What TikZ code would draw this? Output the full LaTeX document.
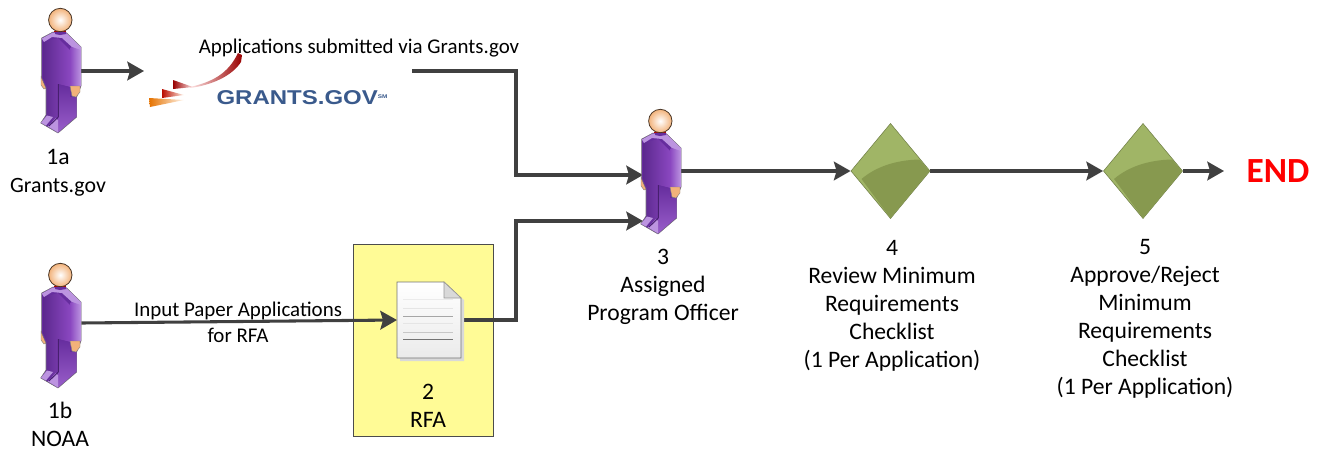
\documentclass[tikz,border=0pt]{standalone}
\usepackage{fontspec}
\setmainfont{Carlito}
\newfontfamily\logofont[FakeStretch=1.2]{Liberation Sans}
\usetikzlibrary{arrows.meta,shapes.geometric}
\definecolor{conn}{HTML}{404040}
\definecolor{purpD}{HTML}{662D9E}
\definecolor{purpM}{HTML}{8A47C0}
\definecolor{purpL}{HTML}{BC94E0}
\definecolor{skin}{HTML}{F2B27A}
\definecolor{dia}{HTML}{A0B566}
\definecolor{diaD}{HTML}{87994F}
\definecolor{rfafill}{HTML}{FFFB96}
\definecolor{logoblue}{HTML}{3A5A8C}
\tikzset{
  x=0.75pt,y=-0.75pt,
  lbl/.style={font=\fontsize{17.7}{21}\selectfont,align=center,inner sep=0pt,text=black},
  edgelbl/.style={font=\fontsize{15.7}{19.5}\selectfont,align=center,inner sep=0pt,text=black},
  conn/.style={draw=conn,line width=2.3pt,-{Stealth[length=12.5pt,width=14pt,inset=2pt]}},
  personbox/.style={inner sep=0pt,minimum width=30pt,minimum height=30pt},
  decision/.style={diamond,aspect=0.83,inner sep=0pt,minimum width=59.5pt,minimum height=71.5pt},
  person/.pic={
    \begin{scope}[shift={(-61,-71)},line join=round]
      \fill[skin,draw=black!50,line width=0.3pt] (41,76) -- (47,76) -- (47,88) -- (44,89) -- (41,85) -- cycle;
      % silhouette
      \draw[black!55,line width=0.4pt,fill=purpD]
        (41.7,38) -- (53,32) -- (66.7,33) -- (81,47) -- (81,86) -- (76.7,97) -- (76.7,117)
        -- (58,133) -- (40.7,123) -- (46,115) -- (46,88) -- (41.7,78) -- cycle;
      % front
      \shade[left color=purpD!90!black,right color=purpM] (43,42) -- (58,38) -- (70,50) -- (70,87) -- (58,84) -- (58,118) -- (47,122) -- (47,86) -- (43,78) -- cycle;
      % right leg
      \shade[top color=purpD,bottom color=purpM!70!purpL] (58,84) -- (70,87) -- (70,97) -- (76.5,97) -- (76.5,116.5) -- (58,132.5) -- cycle;
      % shoulder
      \fill[purpL] (41.9,38.5) -- (53,32.5) -- (66.7,33.3) -- (80.8,47) -- (80.8,52) -- (72,47) -- (62,38) -- (52,37) -- (44,42) -- cycle;
      % arm
      \shade[left color=purpM,right color=purpL] (70,48) -- (72,47) -- (80.8,50) -- (80.8,86) -- (70,87) -- cycle;
      % feet
      \fill[purpL] (41,122.8) -- (47,115.5) -- (53,117) -- (46,125.5) -- cycle;
      \fill[purpL] (48,126.5) -- (56,118) -- (58,120) -- (58,132.5) -- cycle;
      \draw[purpD!70!black,line width=0.7pt] (58.3,84) -- (58.3,117) -- (49,126);
      \fill[skin,draw=black!50,line width=0.3pt] (70,86) -- (80,86) -- (80,92) -- (76,97) -- (72,96) -- cycle;
      \fill[purpD] (55,32) -- (66,32) -- (66,34) -- (60,35) -- (55,34) -- cycle;
      \draw[red!70!black,line width=0.4pt] (54,31.5) -- (66,31.5);
      \shade[inner color=white,outer color=skin,draw=black!70!skin,line width=0.6pt] (60.3,20) circle (11.7);
    \end{scope}
  }
}
\begin{document}
\begin{tikzpicture}
\useasboundingbox (0,0) rectangle (1319,450);

% RFA box
\node[draw=black!70,fill=rfafill,line width=0.8pt,minimum width=105.5pt,minimum height=144.5pt,inner sep=0pt] (rfa) at (423.5,340.5) {};

% anchors
\node[personbox] (p1a) at (61,71) {};
\node[personbox] (p1b) at (61,323) {};
\node[personbox] (p3) at (661,171) {};
\node[inner sep=0pt,minimum width=192pt,minimum height=52pt] (logo) at (284,71) {};
\coordinate (in1) at (643,175);
\coordinate (in2) at (643,221);
\coordinate (docW) at (397,320);
\coordinate (docE) at (461,320);
\coordinate (endpt) at (1224,171);
\node[decision] (d4) at (890.5,171) {};
\node[decision] (d5) at (1143,171) {};

% connectors
\draw[conn] (p1a.east) -- (144,71);
\draw[conn] (logo.east) -- (516,71) -- (516,175) -- (in1);
\draw[conn] (p1b.east) -- (docW);
\draw[conn] (docE) -- (516,320) -- (516,221) -- (in2);
\draw[conn] (p3.east) -- (d4.west);
\draw[conn] (d4.east) -- (d5.west);
\draw[conn] (d5.east) -- (endpt);

% persons
\pic at (61,71) {person};
\pic at (61,326) {person};
\pic at (661,172) {person};

% logo
\shade[left color=red!10,right color=red!60!black] (190,87) .. controls (212,82) and (228,74) .. (238,53) -- (242,55) -- (241,62) .. controls (232,76) and (212,85) .. (190,88) -- cycle;
\shade[left color=red!60!black,right color=red!10] (173,80) -- (193,87) -- (173,89) -- cycle;
\shade[left color=red!70!black!90!orange,right color=orange!10] (162,89) -- (184,95) -- (162,98) -- cycle;
\shade[left color=orange!90!black,right color=orange!8] (149,98) -- (184,100) -- (150,107) -- cycle;
\node[inner sep=0pt,text=logoblue,font=\logofont\bfseries\fontsize{15}{16}\selectfont] (logotxt) at (302,98) {GRANTS.GOV\raisebox{5pt}{\fontsize{4}{4}\selectfont SM}};

% document
\fill[black!15] (400,285) -- (446,285) -- (464,300) -- (464,361) -- (400,361) -- cycle;
\shade[top color=white,bottom color=black!8,draw=black!55,line width=0.6pt] (397,282) -- (444,282) -- (461,298) -- (461,358) -- (397,358) -- cycle;
\fill[black!15,draw=black!40,line width=0.4pt] (444,282) -- (461,298) -- (444,298) -- cycle;
\foreach \yy/\cc in {299/8,308/10,316/35,323/10,332/22,339/55}
  \draw[black!\cc,line width=0.5pt] (403,\yy) -- (453,\yy);
\node[inner sep=0pt,minimum width=48pt,minimum height=57pt] (doc) at (429,320) {};

% decisions
\foreach \cx in {890.5,1143}{
  \fill[dia,draw=black!30!dia,line width=0.4pt] (\cx-39.5,171) -- (\cx,123.5) -- (\cx+39.5,171) -- (\cx,218.5) -- cycle;
  \fill[diaD] (\cx-29,179) .. controls (\cx-15,167) and (\cx+5,160) .. (\cx+29,159.5) -- (\cx+39,171) -- (\cx,218) -- cycle;
}

% labels
\node[edgelbl] (t1) at (359,48.5) {Applications submitted via Grants.gov};
\node[lbl] (t2) at (58,173) {1a\\\fontsize{16.4}{21}\selectfont Grants.gov};
\node[lbl] (t3) at (60,424) {1b\\NOAA};
\node[edgelbl] (t4) at (238,322) {Input Paper Applications\\for RFA};
\node[lbl] (t5) at (428,406) {2\\RFA};
\node[lbl] (t6) at (663,287) {3\\Assigned\\Program Officer};
\node[lbl] (t7) at (892,306) {4\\Review Minimum\\Requirements\\Checklist\\(1 Per Application)};
\node[lbl] (t8) at (1145,318.5) {5\\Approve/Reject\\Minimum\\Requirements\\Checklist\\(1 Per Application)};
\node[inner sep=0pt,text=red,font=\bfseries\fontsize{26.5}{28}\selectfont] (endl) at (1278,171) {END};
\end{tikzpicture}
\end{document}
